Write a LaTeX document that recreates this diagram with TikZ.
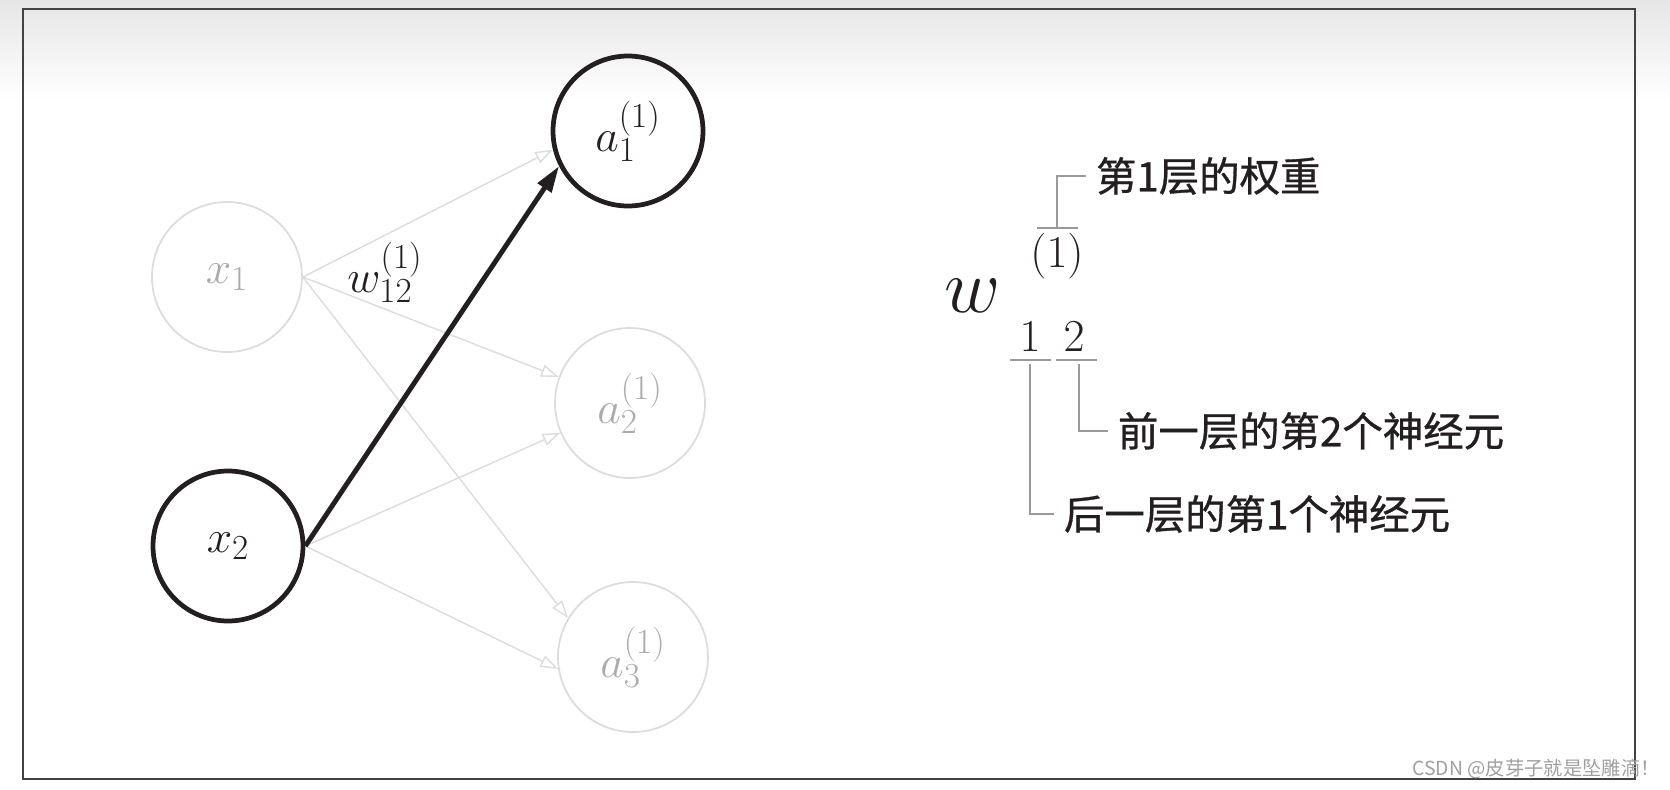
\documentclass[tikz,border=0pt]{standalone}
\usepackage{fix-cm}
\usepackage{fontspec}
\newfontfamily\cjk[FakeBold=0.8]{Noto Sans CJK SC}
\newfontfamily\cjkmark{Noto Sans CJK SC}
\usetikzlibrary{arrows.meta,calc}
\DeclareMathSizes{26}{26}{20}{15}

\definecolor{ink}{HTML}{231F20}
\definecolor{faint}{HTML}{DCDCDC}
\definecolor{fainttext}{HTML}{ABABAB}
\definecolor{guidegray}{HTML}{9A9A9A}

\begin{document}
\begin{tikzpicture}[
    x=0.02cm, y=-0.02cm,
    font=\fontsize{26}{30}\selectfont,
    neuron/.style={draw=faint, line width=1pt, circle, minimum size=3cm, text=fainttext},
    active/.style={draw=ink, line width=2.7pt, circle, minimum size=3cm, text=ink},
    faintarrow/.style={-{Triangle[open, length=10pt, width=7pt]}, draw=faint, line width=0.8pt},
    mainarrow/.style={-{Triangle[length=15pt, width=9pt]}, draw=ink, fill=ink, line width=2.8pt},
    guide/.style={draw=guidegray, line width=0.8pt},
    mathlbl/.style={inner sep=0pt, text=ink},
    note/.style={font=\cjk\fontsize{23}{27}\selectfont, anchor=west, inner sep=0pt, outer sep=0.2cm, text=ink}
]
    \useasboundingbox (0,0) rectangle (1670,789);

    % Background and frame
    \shade[top color=gray!20, bottom color=white] (0,0) rectangle (1670,100);
    \draw[ink!85, line width=1.2pt] (23,9) rectangle (1635,779);

    % Input layer
    \node[neuron] (x1) at (227,277) {$x_1$};
    \node[active] (x2) at (228,546) {$x_2$};

    % First layer
    \node[active] (a1) at (628,131) {$a_1^{(1)}$};
    \node[neuron] (a2) at (630,403) {$a_2^{(1)}$};
    \node[neuron] (a3) at (633,657) {$a_3^{(1)}$};

    % Weight label
    \node[mathlbl] (w12) at (385,272) {$w_{12}^{(1)}$};

    % Arrows
    \draw[faintarrow] (x1.east) -- (a1.194);
    \draw[faintarrow] (x1.east) -- (a2.160);
    \draw[faintarrow] (x1.east) -- (a3.149);
    \draw[faintarrow] (x2.east) -- (a2.203);
    \draw[faintarrow] (x2.east) -- (a3.189);
    \draw[mainarrow] (x2.east) -- (a1.207);

    % Notation explained
    \node[mathlbl, font=\fontsize{44}{50}\selectfont] (wbig) at (973,296) {$w$};
    \node[mathlbl] (sup) at (1057,256) {$(1)$};
    \node[mathlbl] (sub1) at (1030,337) {$1$};
    \node[mathlbl] (sub2) at (1074,337) {$2$};

    \node[note] (layer) at (1086,176) {第1层的权重};
    \node[note] (prev) at (1108,431) {前一层的第2个神经元};
    \node[note] (next) at (1054,514) {后一层的第1个神经元};

    % Guide lines
    \draw[guide] ($(sup.north)+(-20,-5)$) -- ($(sup.north)+(21,-5)$);
    \draw[guide] ($(sup.north)+(0,-5)$) |- (layer.west);
    \draw[guide] ($(sub1.south)+(-20,8)$) -- ($(sub1.south)+(21,8)$);
    \draw[guide] ($(sub1.south)+(0,12)$) |- (next.west);
    \draw[guide] ($(sub2.south)+(-18,8)$) -- ($(sub2.south)+(23,8)$);
    \draw[guide] ($(sub2.south)+(5,12)$) |- (prev.west);

    % Watermark
    \node[font=\cjkmark\fontsize{11}{13}\selectfont, text=gray!75, anchor=east, inner sep=0pt] (mark) at (1660,769) {CSDN @皮芽子就是坠雕滴！};
\end{tikzpicture}
\end{document}
